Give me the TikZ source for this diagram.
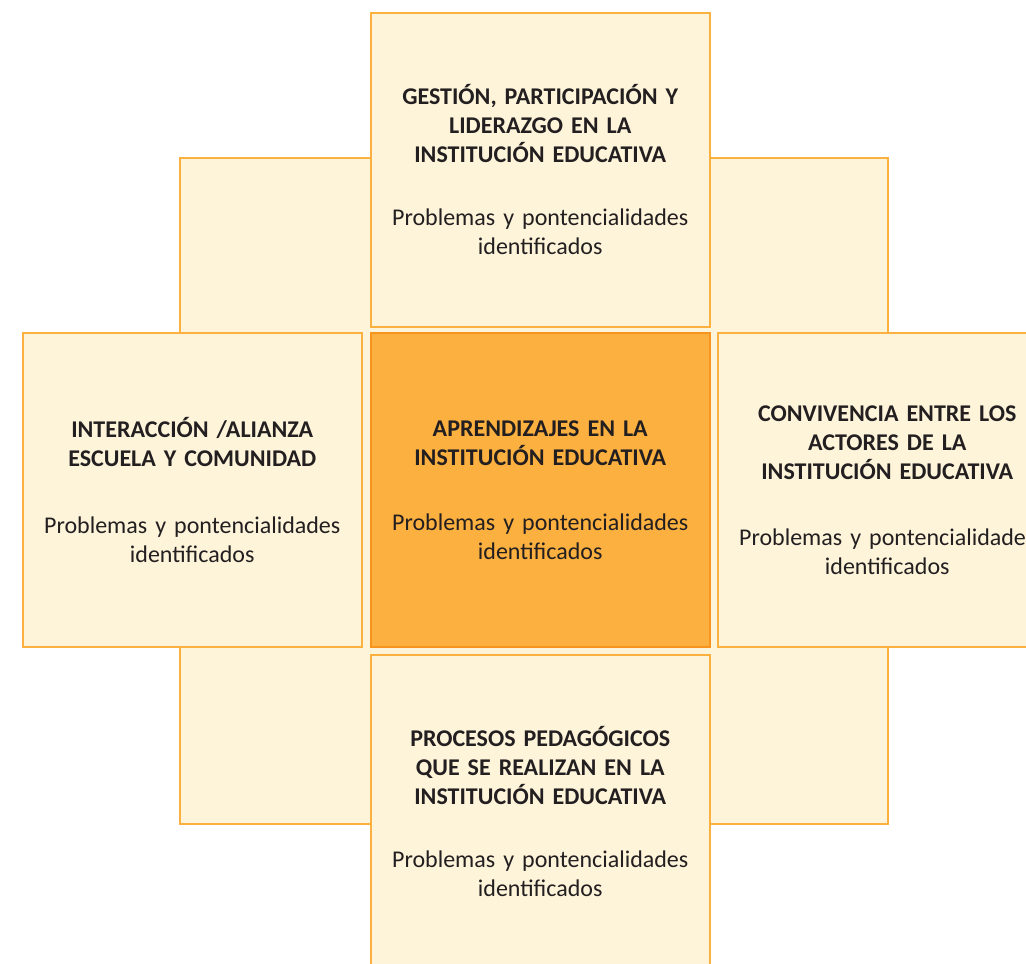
\documentclass[tikz,border=0pt]{standalone}
\usepackage{fontspec}
\setmainfont{Carlito}
\definecolor{boxfill}{HTML}{FDF4DA}
\definecolor{boxline}{HTML}{FBB040}
\definecolor{midfill}{HTML}{FBB040}
\definecolor{midline}{HTML}{F7941D}
\definecolor{txt}{HTML}{231F20}
\begin{document}
\begin{tikzpicture}[x=1pt,y=-1pt,
  panel/.style={draw=boxline, fill=boxfill, line width=1.5pt,
    minimum width=339pt, minimum height=314pt, anchor=north west,
    inner sep=0pt, align=center, text width=330pt, text=txt,
    font=\fontsize{24}{29}\selectfont},
  midpanel/.style={panel, draw=midline, fill=midfill},
  backsq/.style={draw=boxline, fill=boxfill, line width=1.5pt,
    minimum width=708pt, minimum height=666pt, anchor=north west, inner sep=0pt}]
\useasboundingbox (0,0) rectangle (1026,964);
\clip (0,0) rectangle (1026,964);
\node[backsq] (bg) at (179,157) {};
\node[panel] (top) at (370,12) {\textbf{GESTIÓN, PARTICIPACIÓN Y}\\\textbf{LIDERAZGO EN LA}\\\textbf{INSTITUCIÓN EDUCATIVA}\\[34pt]Problemas y pontencialidades\\identificados};
\node[panel] (left) at (22,332) {\textbf{INTERACCIÓN /ALIANZA}\\\textbf{ESCUELA Y COMUNIDAD}\\[38pt]Problemas y pontencialidades\\identificados};
\node[midpanel] (mid) at (370,332) {\textbf{APRENDIZAJES EN LA}\\\textbf{INSTITUCIÓN EDUCATIVA}\\[36pt]Problemas y pontencialidades\\identificados};
\node[panel] (right) at (717,332) {\textbf{CONVIVENCIA ENTRE LOS}\\\textbf{ACTORES DE LA}\\\textbf{INSTITUCIÓN EDUCATIVA}\\[37pt]Problemas y pontencialidades\\identificados};
\node[panel] (bottom) at (370,654) {\textbf{PROCESOS PEDAGÓGICOS}\\\textbf{QUE SE REALIZAN EN LA}\\\textbf{INSTITUCIÓN EDUCATIVA}\\[34pt]Problemas y pontencialidades\\identificados};
\end{tikzpicture}
\end{document}
